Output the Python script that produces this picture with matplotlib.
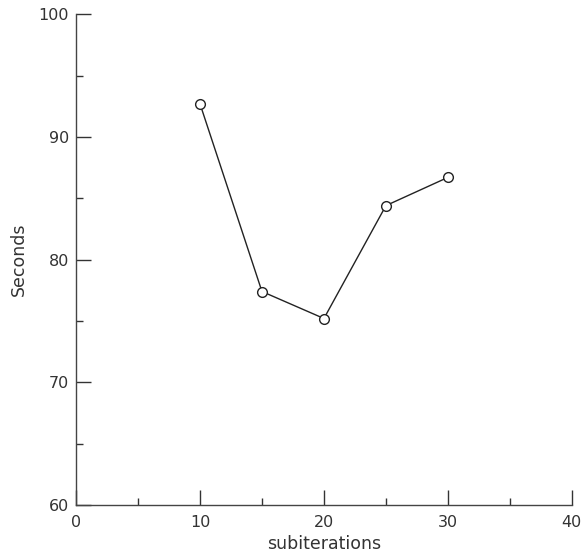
import matplotlib.pyplot as plt
from matplotlib.ticker import MultipleLocator

# data
subiterations = [10, 15, 20, 25, 30]
seconds = [92.7, 77.4, 75.2, 84.4, 86.7]

fig = plt.figure(figsize=(5.82, 5.54), dpi=100)
ax = fig.add_axes([0.1306, 0.0884, 0.852, 0.886])

ax.plot(subiterations, seconds, color="#222222", lw=1.0,
        marker="o", ms=7, mfc="white", mec="#222222", mew=1.0)

ax.set_xlim(0, 40)
ax.set_ylim(60, 100)
ax.xaxis.set_major_locator(MultipleLocator(10))
ax.xaxis.set_minor_locator(MultipleLocator(5))
ax.yaxis.set_major_locator(MultipleLocator(10))
ax.yaxis.set_minor_locator(MultipleLocator(5))

for s in ("top", "right"):
    ax.spines[s].set_visible(False)
for s in ("left", "bottom"):
    ax.spines[s].set_color("#444444")
    ax.spines[s].set_linewidth(1.0)

ax.tick_params(which="major", direction="in", length=10.5, width=1.0,
               color="#333333", labelsize=11.5, labelcolor="#333333")
ax.tick_params(which="minor", direction="in", length=5, width=1.0,
               color="#333333")
ax.tick_params(axis="x", pad=7)
ax.tick_params(axis="y", pad=5)

ax.set_xlabel("subiterations", fontsize=12.5, color="#333333", labelpad=4)
ax.set_ylabel("Seconds", fontsize=12.5, color="#333333", labelpad=8)

fig.savefig("out.png", dpi=100)
